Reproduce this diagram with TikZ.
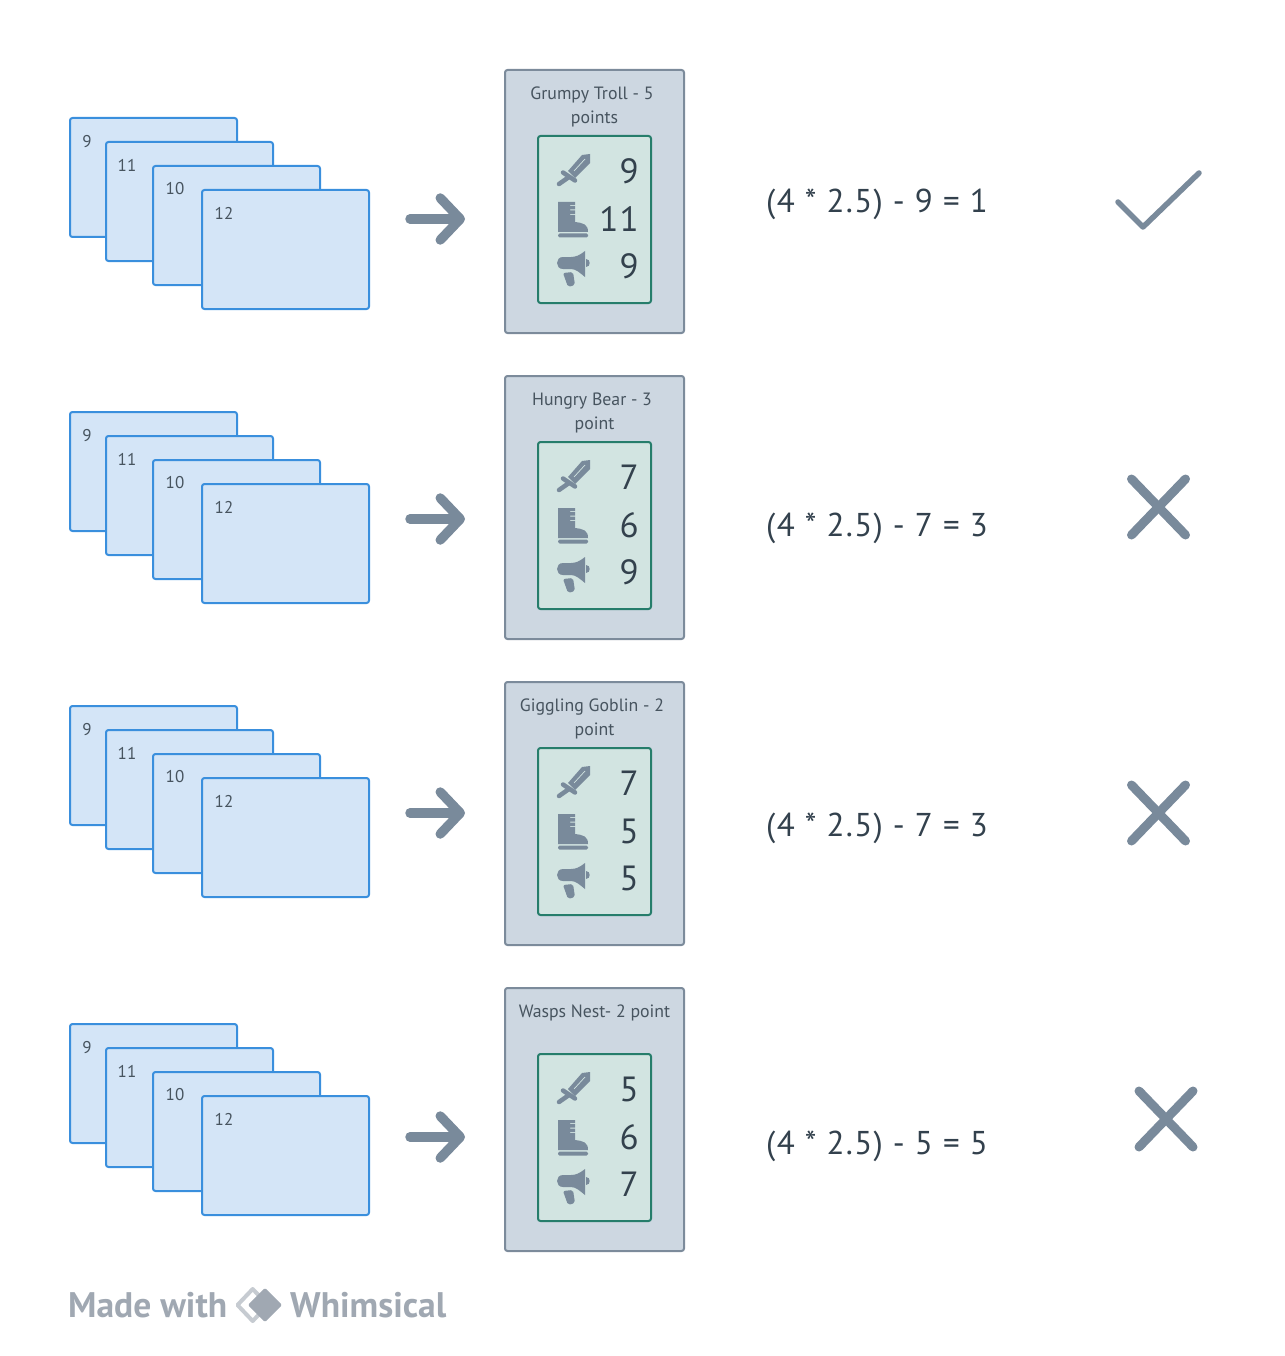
\documentclass[tikz,border=0pt]{standalone}
\usepackage{fontspec}
\setmainfont{PT Sans}
\newfontfamily\scorefont[LetterSpace=4]{PT Sans}
\usetikzlibrary{arrows.meta}
\definecolor{stackfill}{HTML}{D4E5F7}
\definecolor{stackline}{HTML}{3A8FDD}
\definecolor{cardfill}{HTML}{CDD7E1}
\definecolor{cardline}{HTML}{7C8B9B}
\definecolor{statfill}{HTML}{D2E4E1}
\definecolor{statline}{HTML}{267D6B}
\definecolor{inktext}{HTML}{47545F}
\definecolor{inkdark}{HTML}{33414D}
\definecolor{iconfill}{HTML}{798A9B}
\definecolor{wmtext}{HTML}{A0A8B2}
\definecolor{wmlight}{HTML}{C6CBD1}
\tikzstyle{stackcard} = [draw=stackline, fill=stackfill, line width=2pt, rounded corners=2.5pt, anchor=north west, minimum width=167pt, minimum height=119pt, inner sep=0pt, outer sep=0pt]
\tikzstyle{stacklabel} = [anchor=center, color=inktext, font={\fontsize{17}{20}\selectfont}, inner sep=0pt]
\tikzstyle{monstercard} = [draw=cardline, fill=cardfill, line width=2pt, rounded corners=2.5pt, anchor=north west, minimum width=179pt, minimum height=263pt, inner sep=0pt, outer sep=0pt]
\tikzstyle{statbox} = [draw=statline, fill=statfill, line width=2pt, rounded corners=2.5pt, anchor=north west, minimum width=113pt, minimum height=167pt, inner sep=0pt, outer sep=0pt]
\tikzstyle{cardtitle} = [anchor=center, color=inktext, align=center, inner sep=0pt, font={\fontsize{17.8}{24}\selectfont}]
\tikzstyle{statnum} = [anchor=east, color=inkdark, inner sep=0pt, font={\scorefont\fontsize{35}{40}\selectfont}]
\tikzstyle{score} = [anchor=west, color=inkdark, inner sep=0pt, font={\scorefont\fontsize{33}{40}\selectfont}]
\tikzstyle{flowline} = [draw=iconfill, line width=9.5pt, line cap=round, -{Straight Barb[length=20pt, width=42pt, round]}]
\tikzstyle{watermark} = [anchor=west, color=wmtext, inner sep=0pt, font={\bfseries\fontsize{35.5}{40}\selectfont}]
\tikzset{
  sword/.pic={
    \fill[iconfill] (16,-17) -- (8,-16) -- (-6,0) -- (1,7) -- (16,-8) -- cycle;
    \draw[statfill, line width=.7pt] (11,-12) -- (0,0);
    \draw[iconfill, line width=4.5pt, line cap=round] (-11,1.5) -- (1,9.5);
    \draw[iconfill, line width=4.5pt, line cap=round] (-5,6) -- (-15,13);
  },
  boot/.pic={
    \fill[iconfill] (-16,-17) -- (1,-17) -- (1,-14) -- (-4,-14) -- (-4,-13) -- (1,-13) -- (1,-9.5) -- (-4,-9.5) -- (-4,-8.5) -- (1,-8.5) -- (1,-5) -- (-4,-5) -- (-4,-4) -- (1,-4) -- (1,3) .. controls (9,4) and (14,5) .. (14,13) -- (-16,13) -- cycle;
    \fill[iconfill, rounded corners=1.5pt] (-16,14.5) rectangle (14,18.5);
  },
  megaphone/.pic={
    \fill[iconfill] (11,-16) -- (11,10) .. controls (6,6) and (2,2) .. (-3,2) -- (-11,2) .. controls (-19,2) and (-19,-10) .. (-11,-10) -- (-3,-10) .. controls (2,-10) and (6,-12) .. cycle;
    \fill[iconfill] (12,-8) .. controls (17,-8) and (17,0) .. (12,0) -- cycle;
    \fill[iconfill, rounded corners=2pt] (-11,6) -- (-1,5) -- (1,18) -- (-6,20) -- cycle;
  },
  crossmark/.pic={
    \draw[iconfill, line width=9pt, line cap=round] (-27,-28) -- (27,28);
    \draw[iconfill, line width=9pt, line cap=round] (27,-28) -- (-27,28);
  }
}

% one pile of four cards, #1 names it, #2 shifts it
\newcommand{\cardpile}[2]{
  \begin{scope}[yshift=#2]
    \node[stackcard] (#1a) at (70,118) {};
    \node[at={(87,142)}, stacklabel] (#1an) {9};
    \node[stackcard] (#1b) at (106,142) {};
    \node[at={(127,165)}, stacklabel] (#1bn) {11};
    \node[stackcard] (#1c) at (153,166) {};
    \node[at={(175,189)}, stacklabel] (#1cn) {10};
    \node[stackcard] (#1d) at (202,190) {};
    \node[at={(224,213)}, stacklabel] (#1dn) {12};
  \end{scope}
}

% monster card, #3 is the title and #4 #5 #6 the stats
\newcommand{\monster}[6]{
  \begin{scope}[yshift=#2]
    \node[monstercard] (#1card) at (505,70) {};
    \node[statbox] (#1stats) at (538,136) {};
    \node[at={(594.5,107)}, cardtitle] (#1title) {#3};
    \pic at (574,171) {sword};
    \pic at (574,219) {boot};
    \pic at (574,267) {megaphone};
    \node[at={(639,171)}, statnum] (#1atk) {#4};
    \node[at={(639,219)}, statnum] (#1spd) {#5};
    \node[at={(639,266)}, statnum] (#1cry) {#6};
  \end{scope}
}

\begin{document}
\begin{tikzpicture}[x=1pt, y=-1pt]
  \useasboundingbox (0,0) rectangle (1284,1356);

  \cardpile{pileA}{0pt}
  \cardpile{pileB}{-294pt}
  \cardpile{pileC}{-588pt}
  \cardpile{pileD}{-906pt}

  \monster{trollA}{0pt}{Grumpy Troll - 5\kern5pt\\points}{9}{11}{9}
  \monster{bearB}{-306pt}{Hungry Bear - 3\kern5pt\\point}{7}{6}{9}
  \monster{goblinC}{-612pt}{Giggling Goblin - 2\kern5pt\\point}{7}{5}{5}
  \monster{waspD}{-918pt}{Wasps Nest- 2 point\\\phantom{point}}{5}{6}{7}

  \coordinate (arrowAin) at (410,219);
  \coordinate (arrowAout) at (465,219);
  \coordinate (arrowBin) at (410,519);
  \coordinate (arrowBout) at (465,519);
  \coordinate (arrowCin) at (410,813);
  \coordinate (arrowCout) at (465,813);
  \coordinate (arrowDin) at (410,1137);
  \coordinate (arrowDout) at (465,1137);
  \draw[flowline] (arrowAin) -- (arrowAout);
  \draw[flowline] (arrowBin) -- (arrowBout);
  \draw[flowline] (arrowCin) -- (arrowCout);
  \draw[flowline] (arrowDin) -- (arrowDout);

  \node[at={(766,204)}, score] (scoreA) {(4 * 2.5) - 9 = 1};
  \node[at={(766,528)}, score] (scoreB) {(4 * 2.5) - 7 = 3};
  \node[at={(766,828)}, score] (scoreC) {(4 * 2.5) - 7 = 3};
  \node[at={(766,1146)}, score] (scoreD) {(4 * 2.5) - 5 = 5};

  \draw[iconfill, line width=5.5pt, line cap=round, line join=round] (1118,202) -- (1143,227) -- (1199,173);
  \pic at (1158.5,507) {crossmark};
  \pic at (1158.5,813) {crossmark};
  \pic at (1166,1119) {crossmark};

  \node[at={(68,1305)}, watermark] (madewith) {Made with};
  \node[at={(290,1305)}, watermark] (whimsical) {Whimsical};
  \draw[wmlight, line width=4pt, line join=round] (252.7,1289) -- (268,1305) -- (252.7,1321) -- (237.5,1305) -- cycle;
  \fill[wmtext, draw=wmtext, line width=3pt, line join=round] (265,1290) -- (280,1305) -- (265,1320) -- (250,1305) -- cycle;
\end{tikzpicture}
\end{document}
